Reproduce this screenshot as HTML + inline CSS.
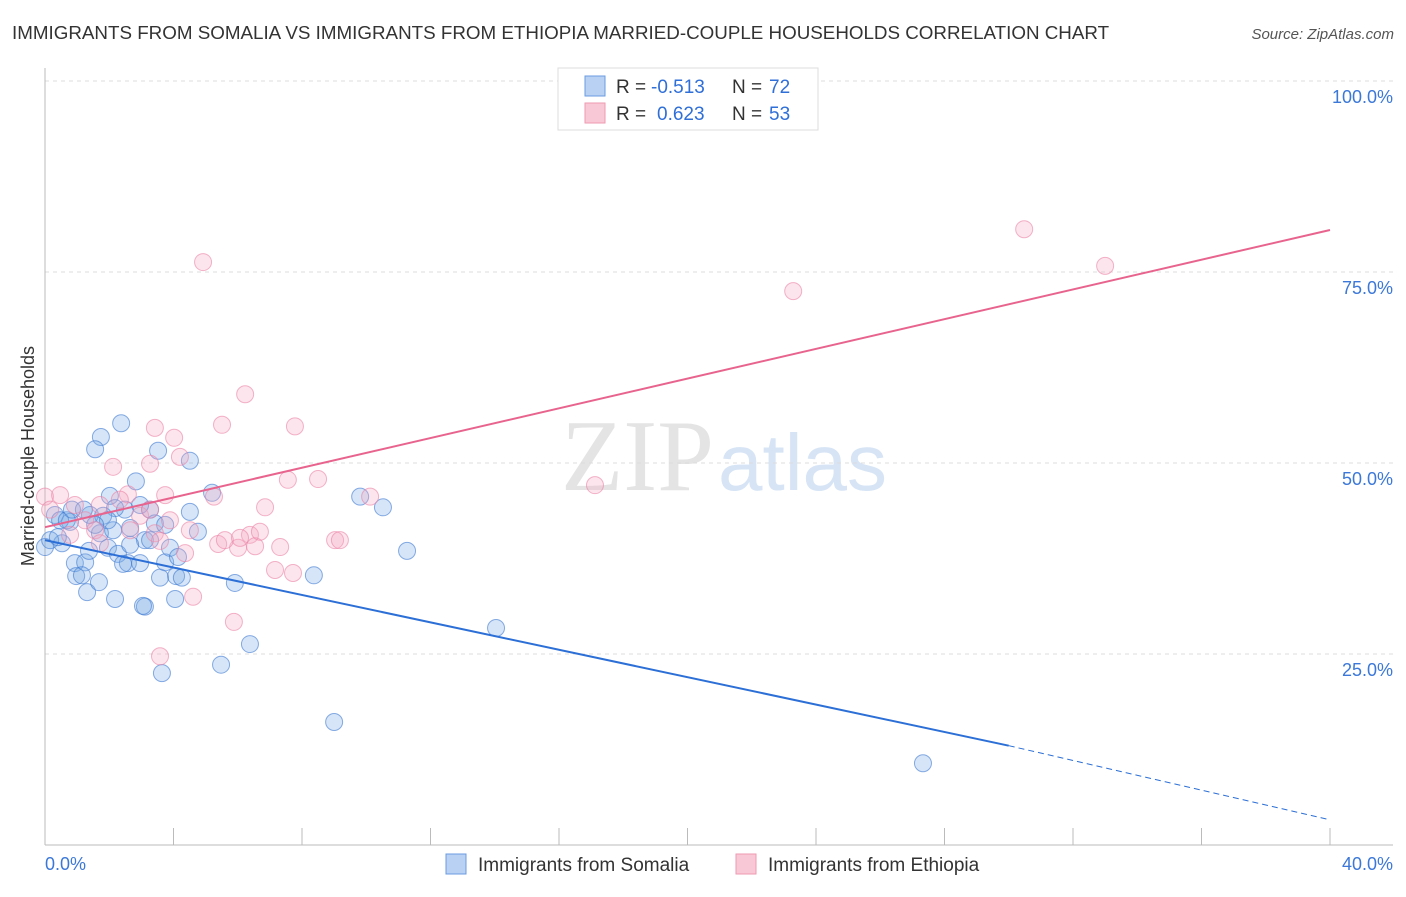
<!DOCTYPE html>
<html><head><meta charset="utf-8"><style>
body{margin:0;background:#fff;font-family:"Liberation Sans",sans-serif;}
</style></head><body>
<svg id="c" width="1406" height="892" xmlns="http://www.w3.org/2000/svg" style="font-family:'Liberation Sans',sans-serif">
<text x="12" y="39" font-size="18.8" fill="#333">IMMIGRANTS FROM SOMALIA VS IMMIGRANTS FROM ETHIOPIA MARRIED-COUPLE HOUSEHOLDS CORRELATION CHART</text>
<text x="1394" y="39" font-size="15" fill="#555" font-style="italic" text-anchor="end">Source: ZipAtlas.com</text>
<text x="714" y="490" font-size="102" fill="#e4e4e4" text-anchor="end" font-family="Liberation Serif">ZIP</text>
<text x="718" y="490" font-size="80" fill="#d6e4f5">atlas</text>
<g id="grid"></g>
<g id="axes"></g>
<g id="pts"></g>
<g id="lines"></g>
<text x="34" y="456" font-size="18" fill="#333" text-anchor="middle" transform="rotate(-90 34 456)">Married-couple Households</text>
<g>
<rect x="558" y="68" width="260" height="62" fill="#fff" stroke="#ddd"/>
<rect x="585" y="76" width="20" height="20" fill="#b9d2f3" stroke="#6a9be0"/>
<rect x="585" y="103" width="20" height="20" fill="#f9c8d6" stroke="#ee9ab2"/>
<text x="616" y="93" font-size="19" fill="#333">R =</text>
<text x="651" y="93" font-size="19" fill="#2f6fd8">-0.513</text>
<text x="732" y="93" font-size="19" fill="#333">N =</text>
<text x="769" y="93" font-size="19" fill="#2f6fd8">72</text>
<text x="616" y="120" font-size="19" fill="#333">R =</text>
<text x="657" y="120" font-size="19" fill="#2f6fd8">0.623</text>
<text x="732" y="120" font-size="19" fill="#333">N =</text>
<text x="769" y="120" font-size="19" fill="#2f6fd8">53</text>
</g>
<g><rect x="446" y="854" width="20" height="20" fill="#b9d2f3" stroke="#6a9be0"/><text x="478" y="871" font-size="19" fill="#333">Immigrants from Somalia</text></g>
<g><rect x="736" y="854" width="20" height="20" fill="#f9c8d6" stroke="#ee9ab2"/><text x="768" y="871" font-size="19" fill="#333">Immigrants from Ethiopia</text></g>
</svg>
<script>
const somaliaX=[2.37,1.74,1.56,3.52,4.51,2.83,5.20,2.02,0,0.31,0.53,0.78,0.93,1.25,1.37,1.71,1.96,2.12,2.27,2.58,2.65,2.96,3.11,3.27,3.42,3.58,3.74,3.89,4.08,4.14,4.26,4.05,3.11,3.05,2.18,1.31,1.68,0.97,1.15,4.51,4.76,5.91,6.38,5.48,3.64,8.37,9.0,9.81,10.52,11.27,14.04,27.33,0.47,0.68,0.16,0.40,1.40,2.49,2.18,1.81,0.84,3.27,3.74,2.96,1.21,1.96,1.56,2.65,2.43];
const somaliaY=[55.2,53.4,51.8,51.6,50.3,47.6,46.1,45.7,39.0,43.2,39.5,42.3,36.9,37.0,38.5,40.8,38.9,41.2,38.1,36.9,41.5,36.9,39.9,43.9,42.1,35.0,37.0,38.9,35.2,37.7,35.0,32.2,31.2,31.3,32.2,33.1,34.4,35.2,35.3,43.6,41.0,34.3,26.3,23.6,22.5,35.3,16.1,45.6,44.2,38.5,28.4,10.7,42.5,42.5,39.9,40.3,43.2,43.9,44.1,43.1,43.9,39.9,41.9,44.5,43.9,42.5,41.9,39.3,36.8];
const ethiopiaX=[0,0.47,0.93,1.71,2.12,2.58,3.27,3.42,4.02,4.20,3.74,3.89,4.36,4.61,4.92,5.26,5.51,6.23,5.39,5.88,6.01,6.38,6.54,6.69,6.85,7.16,7.32,7.56,7.72,7.78,8.50,9.03,9.18,10.12,3.58,17.12,23.29,30.48,33.0,0.16,1.25,1.56,2.33,2.96,3.42,3.58,0.78,1.71,2.65,4.51,5.6,6.07,3.27];
const ethiopiaY=[45.6,45.8,44.5,44.5,49.5,45.9,49.9,54.6,53.3,50.8,45.8,42.5,38.2,32.5,76.3,45.6,55.0,59.0,39.4,29.2,38.9,40.6,39.1,41.0,44.2,36.0,39.0,47.8,35.6,54.8,47.9,39.9,39.9,45.6,24.7,47.1,72.5,80.6,75.8,43.9,42.5,41.2,45.2,43.1,40.8,39.8,40.6,39.5,41.2,41.2,39.9,40.2,43.9];
const somaliaTrend=[39.9,13.0,3.3]; // y at x=0, x=30, x=40
const ethiopiaTrend=[41.6,80.5];     // y at x=0, x=40
const yTicks=[25,50,75,100];
const yTickLabels=["25.0%","50.0%","75.0%","100.0%"];
const NS="http://www.w3.org/2000/svg";
const X=v=>45+v/40*1285, Y=v=>845-v*7.64;
function mk(p,t,a){const e=document.createElementNS(NS,t);for(const k in a)e.setAttribute(k,a[k]);p.appendChild(e);return e;}
const grid=document.getElementById('grid'),axes=document.getElementById('axes'),pts=document.getElementById('pts'),lines=document.getElementById('lines');
yTicks.forEach((v,i)=>{
 const l=mk(grid,'line',{x1:45,x2:1393,y1:Y(v),y2:Y(v),stroke:'#ddd','stroke-dasharray':'4,4'});
 
 
 const t=mk(grid,'text',{x:1393,y:Y(v)+22,'font-size':18,fill:'#3b78d8','text-anchor':'end'});
 t.textContent=yTickLabels[i];
 
 
});
const ax=mk(axes,'line',{x1:45,x2:1393,y1:845,y2:845,stroke:'#bbb'});


const ay=mk(axes,'line',{x1:45,x2:45,y1:68,y2:845,stroke:'#bbb'});


for(let i=1;i<=10;i++){const t=mk(axes,'line',{x1:X(i*4),x2:X(i*4),y1:828,y2:845,stroke:'#bbb'});
 
 }
[["0.0%",45,'start'],["40.0%",1393,'end']].forEach(d=>{const t=mk(axes,'text',{x:d[1],y:870,'font-size':18,fill:'#3b78d8','text-anchor':d[2]});t.textContent=d[0];
 
 });
somaliaX.forEach((x,i)=>{const c=mk(pts,'circle',{cx:X(x),cy:Y(somaliaY[i]),r:8.5,fill:'rgba(120,170,230,0.3)',stroke:'rgba(60,120,210,0.6)','stroke-width':1});
 
 });
ethiopiaX.forEach((x,i)=>{const c=mk(pts,'circle',{cx:X(x),cy:Y(ethiopiaY[i]),r:8.5,fill:'rgba(245,170,195,0.3)',stroke:'rgba(235,130,165,0.6)','stroke-width':1});
 
 });
const b1=mk(lines,'line',{x1:X(0),y1:Y(somaliaTrend[0]),x2:X(30),y2:Y(somaliaTrend[1]),stroke:'#2c6fd6','stroke-width':2});


const b2=mk(lines,'line',{x1:X(30),y1:Y(somaliaTrend[1]),x2:X(40),y2:Y(somaliaTrend[2]),stroke:'#2c6fd6','stroke-width':1,'stroke-dasharray':'6,4'});


const p1=mk(lines,'line',{x1:X(0),y1:Y(ethiopiaTrend[0]),x2:X(40),y2:Y(ethiopiaTrend[1]),stroke:'#e8648e','stroke-width':2});


</script>
</body></html>
